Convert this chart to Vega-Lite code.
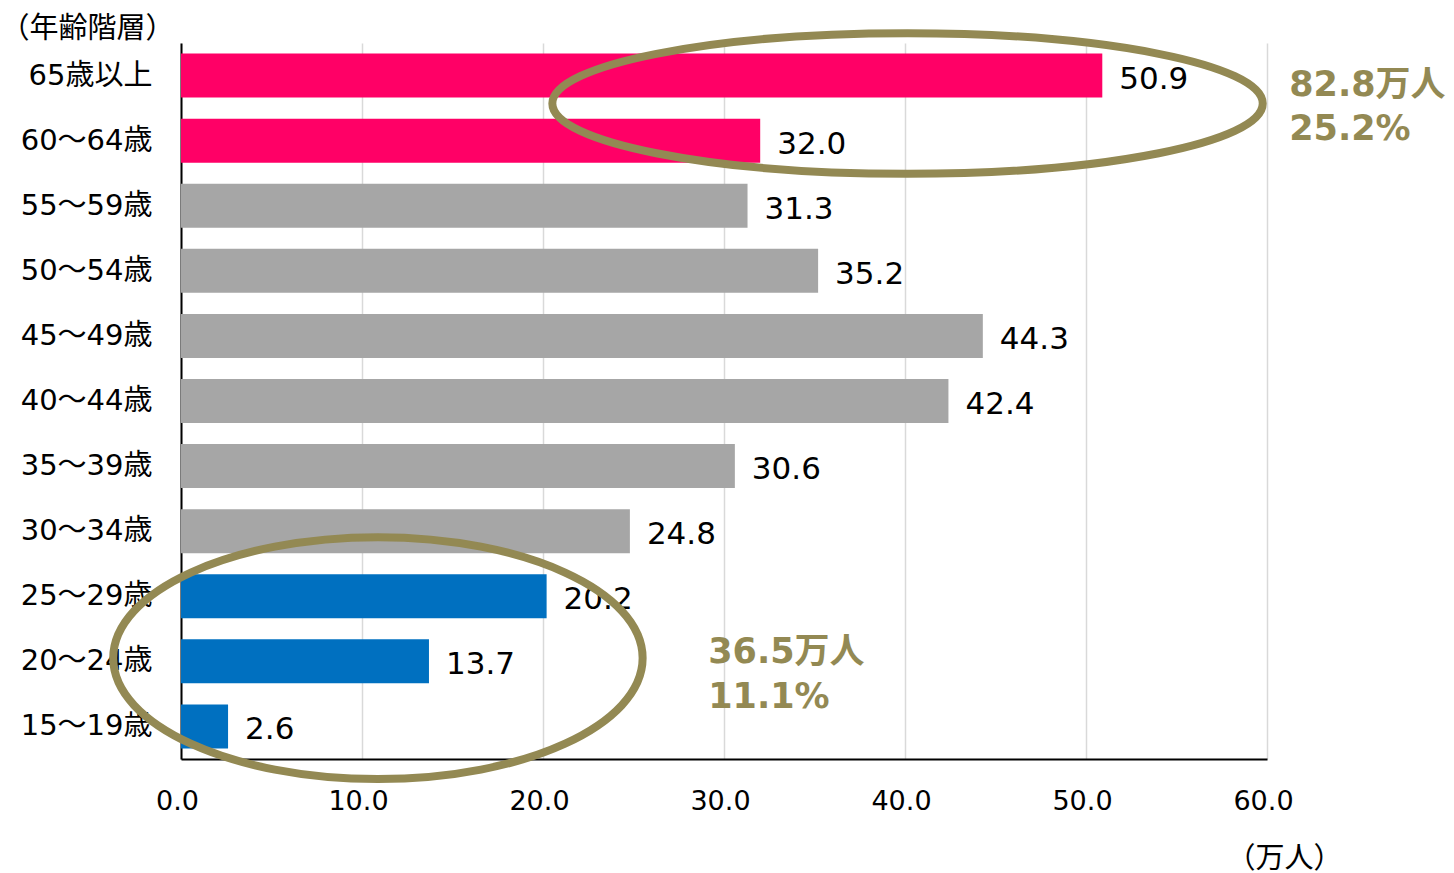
{
  "$schema": "https://vega.github.io/schema/vega-lite/v6.json",
  "width": 1086,
  "height": 716,
  "autosize": "none",
  "padding": {"left": 181, "top": 43, "right": 187, "bottom": 114},
  "background": "white",
  "config": {
    "font": "DejaVu Sans, Noto Sans CJK JP",
    "view": {"stroke": null}
  },
  "datasets": {
    "bars": [
      {"age": "65歳以上", "value": 50.9, "group": "高齢"},
      {"age": "60～64歳", "value": 32.0, "group": "高齢"},
      {"age": "55～59歳", "value": 31.3, "group": "中間"},
      {"age": "50～54歳", "value": 35.2, "group": "中間"},
      {"age": "45～49歳", "value": 44.3, "group": "中間"},
      {"age": "40～44歳", "value": 42.4, "group": "中間"},
      {"age": "35～39歳", "value": 30.6, "group": "中間"},
      {"age": "30～34歳", "value": 24.8, "group": "中間"},
      {"age": "25～29歳", "value": 20.2, "group": "若年"},
      {"age": "20～24歳", "value": 13.7, "group": "若年"},
      {"age": "15～19歳", "value": 2.6, "group": "若年"}
    ],
    "notes": [
      {"kind": "e1", "x": 40.14, "y": 10.07, "label": ""},
      {"kind": "e2", "x": 10.88, "y": 1.55, "label": ""},
      {"kind": "note", "x": 61.23, "y": 10.36, "label": "82.8万人\n25.2%"},
      {"kind": "note", "x": 29.13, "y": 1.64, "label": "36.5万人\n11.1%"}
    ]
  },
  "layer": [
    {
      "data": {"name": "bars"},
      "encoding": {
        "y": {
          "field": "age", "type": "nominal", "sort": null,
          "scale": {"paddingInner": 0.324, "paddingOuter": 0.162},
          "axis": {
            "title": "（年齢階層）", "titleAngle": 0, "titleAlign": "left", "titleBaseline": "middle",
            "titleX": -181, "titleY": -15, "titleFontSize": 29, "titleFontWeight": "normal", "titleColor": "black",
            "labelFontSize": 29, "labelColor": "black", "labelPadding": 29, "ticks": false,
            "domainColor": "black", "domainWidth": 2, "grid": false
          }
        },
        "x": {
          "field": "value", "type": "quantitative",
          "scale": {"domain": [0, 60], "nice": false},
          "axis": {
            "title": "（万人）", "titleFontSize": 29, "titleFontWeight": "normal", "titleColor": "black",
            "titleAlign": "center", "titleBaseline": "middle", "titleX": 1103, "titleY": 99,
            "values": [0, 10, 20, 30, 40, 50, 60], "format": ".1f",
            "labelFontSize": 27, "labelColor": "black", "labelPadding": 29, "labelOffset": -4, "labelFlush": false,
            "ticks": false, "domainColor": "black", "domainWidth": 2,
            "grid": true, "gridColor": "#D9D9D9", "gridWidth": 1.5
          }
        }
      },
      "layer": [
        {
          "mark": {"type": "bar"},
          "encoding": {
            "color": {
              "field": "group", "type": "nominal",
              "scale": {"domain": ["高齢", "中間", "若年"], "range": ["#FF0066", "#A6A6A6", "#0070C0"]},
              "legend": null
            }
          }
        },
        {
          "mark": {"type": "text", "align": "left", "baseline": "middle", "dx": 17, "dy": 4, "fontSize": 31, "color": "black"},
          "encoding": {"text": {"field": "value", "type": "quantitative", "format": ".1f"}}
        }
      ]
    },
    {
      "data": {"name": "notes"},
      "encoding": {
        "x": {
          "field": "x", "type": "quantitative",
          "scale": {"domain": [0, 60], "nice": false},
          "axis": {
            "title": "（万人）", "titleFontSize": 29, "titleFontWeight": "normal", "titleColor": "black",
            "titleAlign": "center", "titleBaseline": "middle", "titleX": 1103, "titleY": 99,
            "values": [0, 10, 20, 30, 40, 50, 60], "format": ".1f",
            "labelFontSize": 27, "labelColor": "black", "labelPadding": 29, "labelOffset": -4, "labelFlush": false,
            "ticks": false, "domainColor": "black", "domainWidth": 2,
            "grid": true, "gridColor": "#D9D9D9", "gridWidth": 1.5
          }
        },
        "y": {"field": "y", "type": "quantitative", "scale": {"domain": [0, 11], "nice": false, "zero": false}, "axis": null}
      },
      "layer": [
        {
          "transform": [{"filter": "datum.kind == 'e1'"}],
          "mark": {
            "type": "point", "filled": false, "opacity": 1, "stroke": "#938953", "strokeWidth": 8,
            "shape": "M -1 0 A 1 0.198 0 1 0 1 0 A 1 0.198 0 1 0 -1 0 Z", "size": 504668
          }
        },
        {
          "transform": [{"filter": "datum.kind == 'e2'"}],
          "mark": {
            "type": "point", "filled": false, "opacity": 1, "stroke": "#938953", "strokeWidth": 8,
            "shape": "M -1 0 A 1 0.457 0 1 0 1 0 A 1 0.457 0 1 0 -1 0 Z", "size": 280264
          }
        },
        {
          "transform": [{"filter": "datum.kind == 'note'"}],
          "mark": {
            "type": "text", "align": "left", "baseline": "middle", "fontSize": 35, "fontWeight": "bold",
            "color": "#938953", "lineBreak": "\n", "lineHeight": 44.5
          },
          "encoding": {"text": {"field": "label", "type": "nominal"}}
        }
      ]
    }
  ],
  "resolve": {"scale": {"y": "independent"}, "axis": {"y": "independent"}}
}
